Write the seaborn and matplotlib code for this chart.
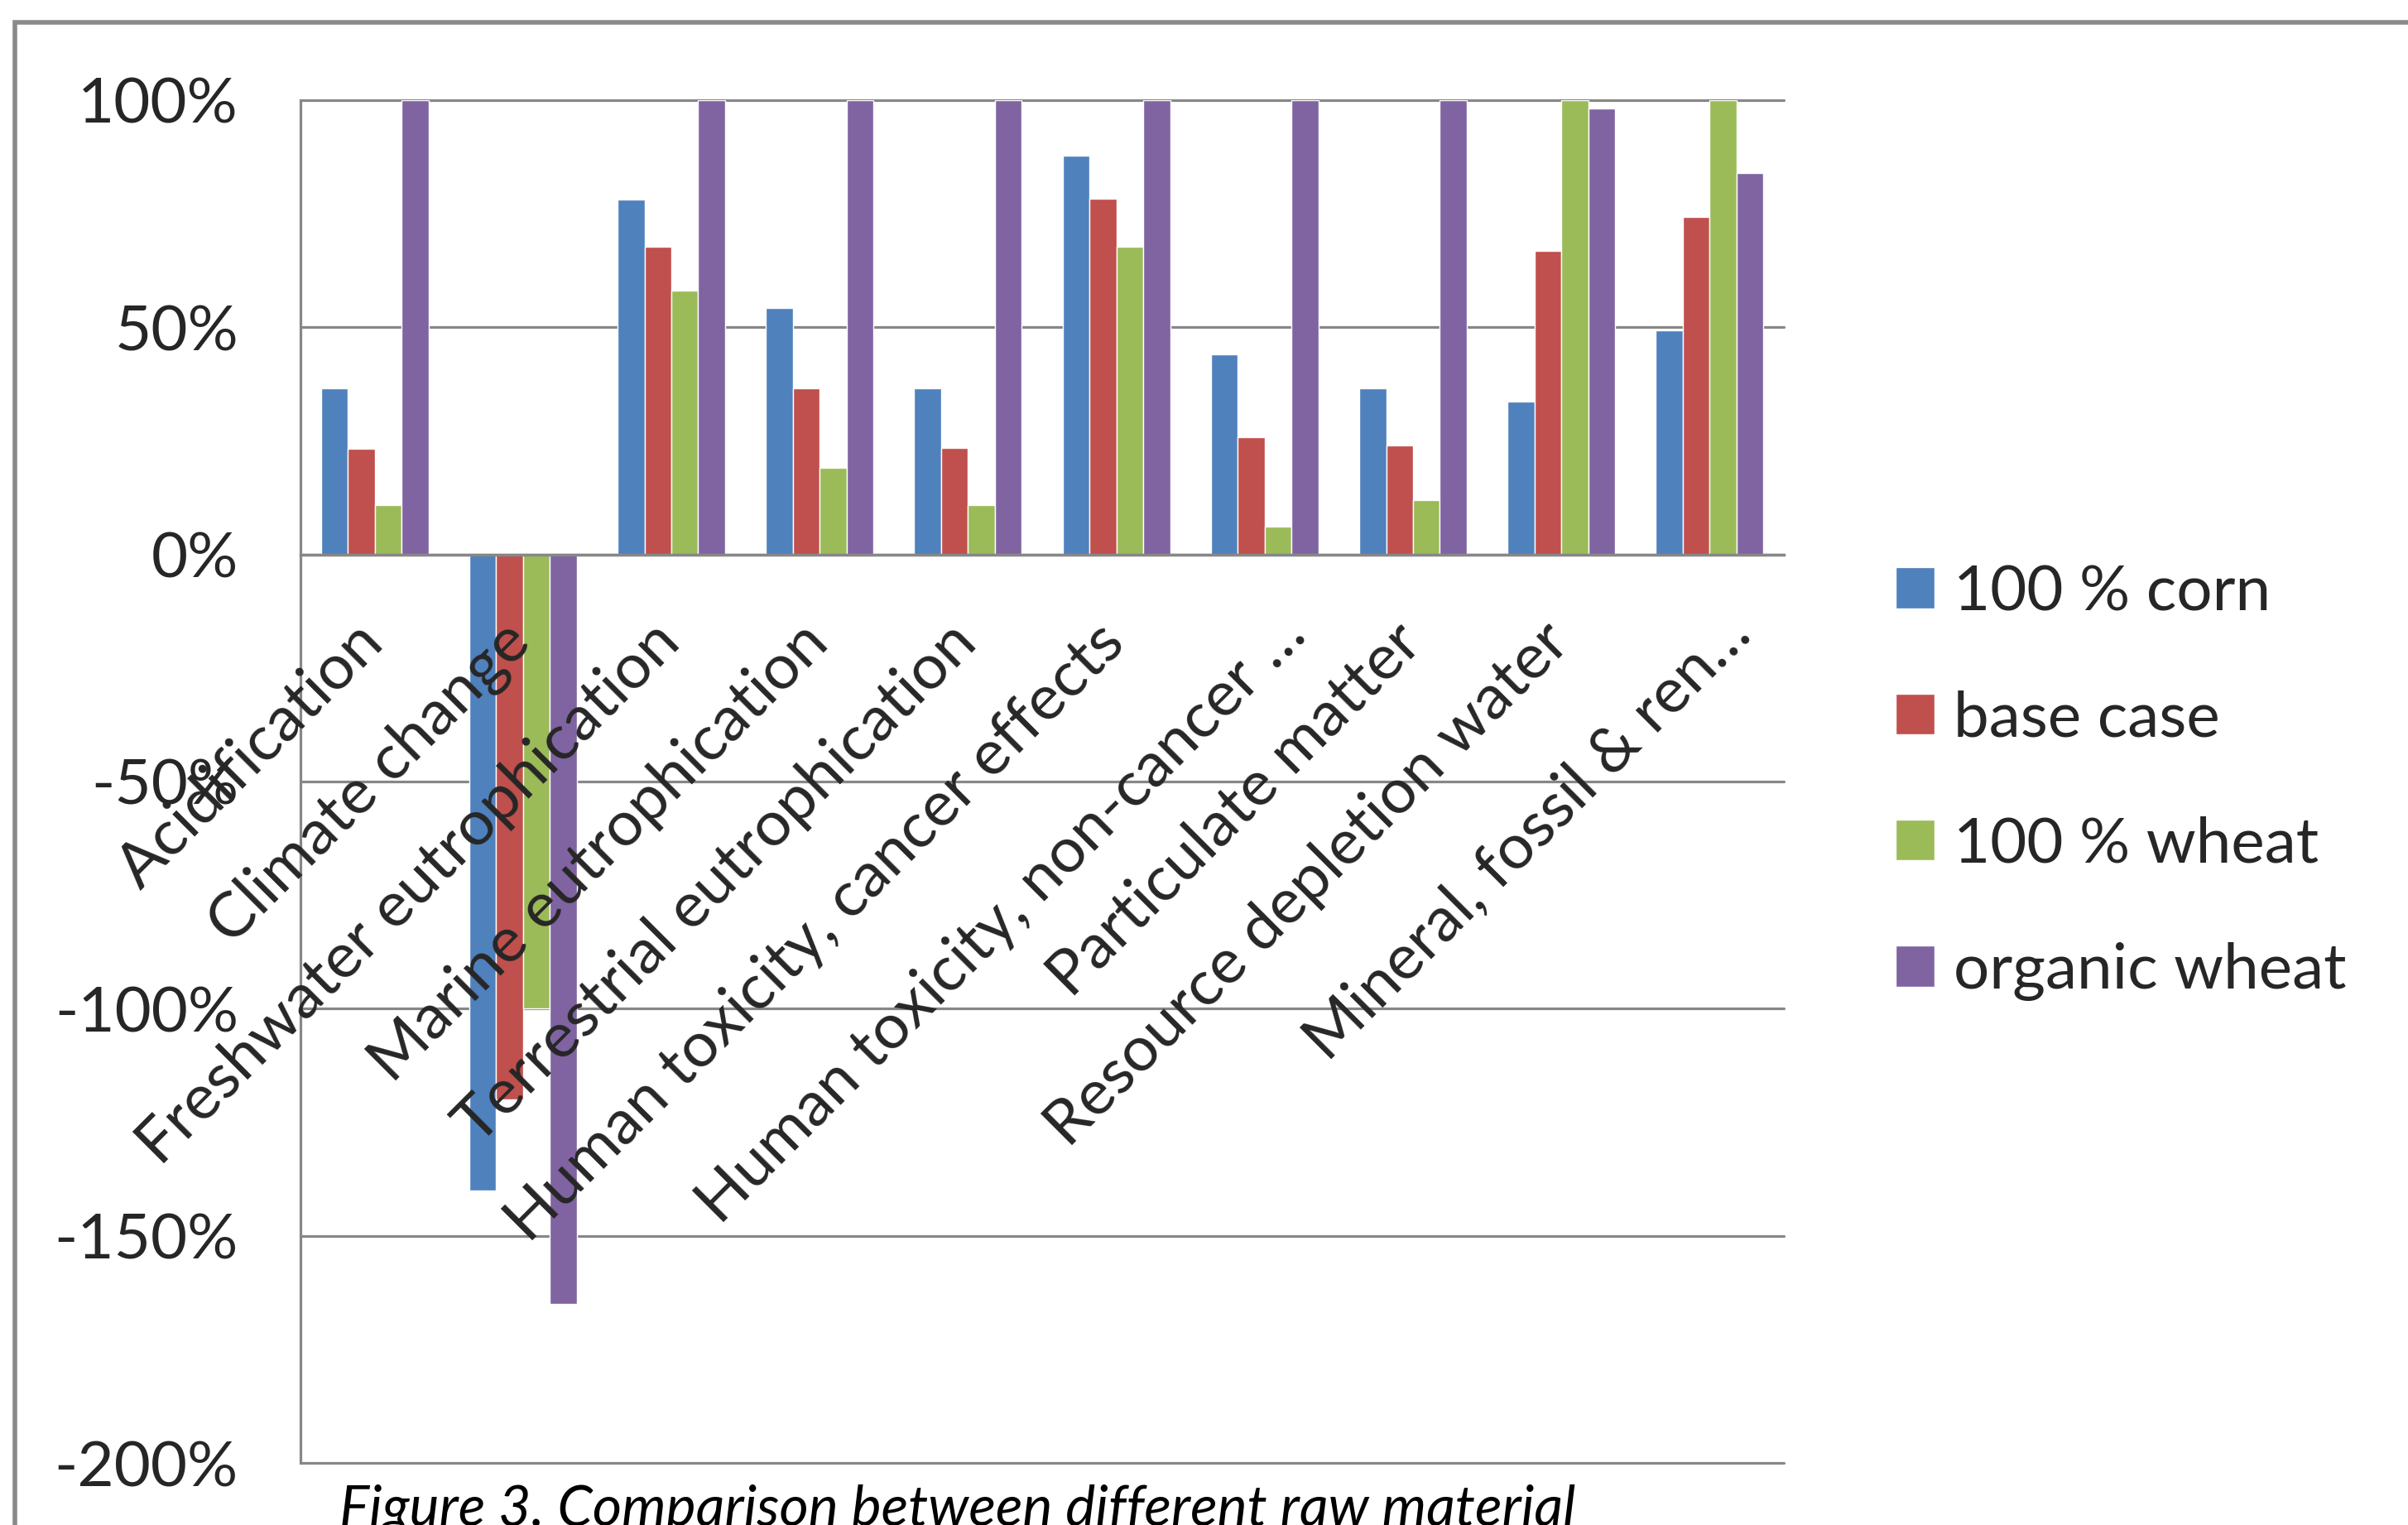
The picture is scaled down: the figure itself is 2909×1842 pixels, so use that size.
import matplotlib
matplotlib.use("Agg")
import matplotlib.pyplot as plt
import matplotlib.transforms as mtransforms
from matplotlib.patches import Rectangle
import seaborn as sns
import pandas as pd
import numpy as np

categories = ["Acidification", "Climate change", "Freshwater eutrophication",
              "Marine eutrophication", "Terrestrial eutrophication",
              "Human toxicity, cancer effects", "Human toxicity, non-cancer …",
              "Particulate matter", "Resource depletion water",
              "Mineral, fossil & ren…"]
series = ["100 % corn", "base case", "100 % wheat", "organic wheat"]
corn = [36.6, -140, 78.1, 54.2, 36.6, 87.8, 44.0, 36.6, 33.6, 49.3]
base = [23.2, -120, 67.7, 36.6, 23.4, 78.3, 25.8, 24.0, 66.9, 74.3]
wheat = [10.8, -100, 58.0, 19.0, 10.8, 67.8, 6.1, 11.9, 100, 100]
organic = [100, -165, 100, 100, 100, 100, 100, 100, 98.1, 84.0]
yticks = [100, 50, 0, -50, -100, -150, -200]
ytick_labels = ["100%", "50%", "0%", "-50%", "-100%", "-150%", "-200%"]
colors = ["#4F81BD", "#C0504D", "#9BBB59", "#8064A2"]
caption = "Figure 3. Comparison between different raw material"

rows = []
for s, vals in zip(series, [corn, base, wheat, organic]):
    for c, v in zip(categories, vals):
        rows.append({"category": c, "series": s, "value": v})
df = pd.DataFrame(rows)

sns.set_style("white")
plt.rcParams["font.family"] = ["Lato", "DejaVu Sans"]

W, H = 2909, 1842
fig = plt.figure(figsize=(W / 100, H / 100), dpi=100)
fig.patch.set_facecolor("white")

# outer frame (open to right / bottom)
fig.add_artist(Rectangle((18 / W, -0.1), 1.2, 1 - 27 / H + 0.1,
                         transform=fig.transFigure, fill=False,
                         edgecolor="#8a8a8a", linewidth=4))

left, right, top, bottom = 363, 2155, 121, 1767
ax = fig.add_axes([left / W, 1 - bottom / H, (right - left) / W, (bottom - top) / H])

sns.barplot(data=df, x="category", y="value", hue="series", order=categories,
            hue_order=series, palette=colors, width=0.725, gap=0,
            saturation=1, errorbar=None, ax=ax)

gray = "#878787"
fs = 55
ax.set_ylim(-200, 100)
ax.set_xlim(-0.5, len(categories) - 0.5)
ax.set_yticks(yticks)
ax.set_yticklabels(ytick_labels, fontsize=fs)
ax.grid(axis="y", color=gray, linewidth=2.3)
ax.set_axisbelow(True)
ax.xaxis.set_zorder(3)
for gl in ax.get_ygridlines():
    gl.set_clip_on(False)

for sp in ["top", "right"]:
    ax.spines[sp].set_visible(False)
ax.spines["bottom"].set_position(("data", 0))
ax.spines["bottom"].set_color(gray)
ax.spines["bottom"].set_linewidth(2.5)
ax.spines["left"].set_color(gray)
ax.spines["left"].set_linewidth(2.3)

ax.tick_params(axis="y", direction="out", length=19, width=2.3, color=gray,
               pad=35, labelsize=fs)
ax.set_xticks(range(len(categories)))
ax.set_xticklabels(categories, rotation=45, ha="right", va="center",
                   rotation_mode="anchor", fontsize=fs)
ax.set_xticks(np.arange(-0.5, len(categories)), minor=True)
ax.tick_params(axis="x", which="major", length=0, pad=68)
ax.tick_params(axis="x", which="minor", direction="out", length=21, width=2.3, color=gray)
for lbl in ax.get_xticklabels():
    dx, dy = -2, 0
    if lbl.get_text().endswith("…"):
        dx, dy = 38, 10
    off = mtransforms.ScaledTranslation(dx / 100, dy / 100, fig.dpi_scale_trans)
    lbl.set_transform(lbl.get_transform() + off)
ax.set_xlabel("")
ax.set_ylabel("")

sns.move_legend(ax, "center left", bbox_to_anchor=(2290 / W, 1 - 945 / H),
                bbox_transform=fig.transFigure, frameon=False, title=None,
                fontsize=fs, borderpad=0, borderaxespad=0,
                handlelength=0.62, handleheight=0.62, handletextpad=0.3,
                labelspacing=1.09)

fig.text(410 / W, 1 - 1793 / H, caption, fontsize=49, style="italic",
         va="top", ha="left", color="black")

fig.savefig("out.png", dpi=100, facecolor="white")
